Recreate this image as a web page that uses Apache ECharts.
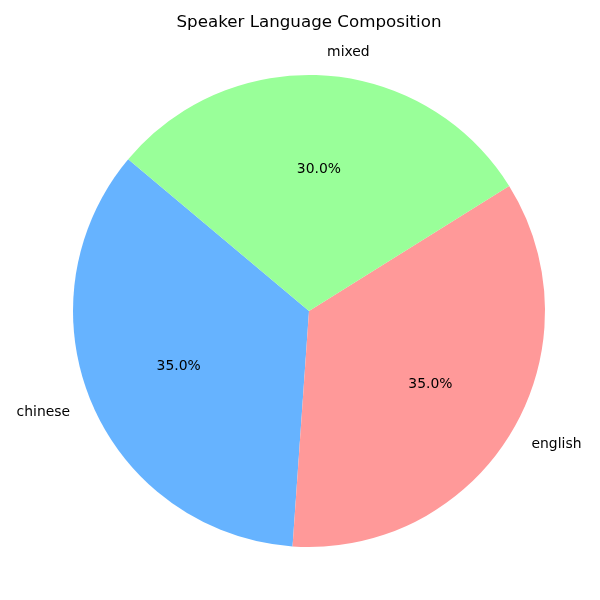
<!DOCTYPE html>
<html>
<head>
<meta charset="utf-8">
<script src="https://cdn.jsdelivr.net/npm/echarts@6/dist/echarts.min.js"></script>
<style>
  html, body { margin: 0; padding: 0; background: #fff; }
  #chart1 { width: 600px; height: 600px; }
</style>
</head>
<body>
<div id="chart1"></div>
<script>
// 数据
const languages = ['chinese', 'english', 'mixed'];
const shares = [35, 35, 30];
const colors = ['#66b3ff', '#ff9999', '#99ff99'];

const R = 236;
const font = 'DejaVu Sans';

const pieData = languages.map((name, i) => {
  return { name: name, value: shares[i], itemStyle: { color: colors[i] } };
});
const total = shares.reduce((a, b) => a + b, 0);

const option = {
  animation: false,
  backgroundColor: '#fff',
  title: {
    text: 'Speaker Language Composition',
    left: 309,
    top: 14,
    padding: 0,
    textAlign: 'center',
    textStyle: { fontFamily: font, fontSize: 16.7, fontWeight: 'normal', color: '#000' }
  },
  series: [
    {
      // 扇区 + 外侧名称
      type: 'pie',
      center: [309, 311],
      radius: [0, R],
      startAngle: 140,
      clockwise: false,
      avoidLabelOverlap: false,
      silent: true,
      data: pieData,
      label: {
        show: true,
        position: 'outside',
        formatter: '{b}',
        fontFamily: font,
        fontSize: 13.9,
        color: '#000',
        distanceToLabelLine: 0
      },
      labelLine: { show: false, length: R * 0.1, length2: 0 }
    },
    {
      // 百分比, 放在 0.6R
      type: 'pie',
      center: [309, 311],
      radius: [R * 0.2 - 6, R],
      startAngle: 140,
      clockwise: false,
      avoidLabelOverlap: false,
      silent: true,
      data: languages.map((name, i) => ({ name: name, value: shares[i] })),
      itemStyle: { color: 'rgba(0,0,0,0)' },
      label: {
        show: true,
        position: 'inside',
        formatter: p => (p.value / total * 100).toFixed(1) + '%',
        fontFamily: font,
        fontSize: 13.9,
        color: '#000'
      },
      labelLine: { show: false }
    }
  ]
};

const mycharts = echarts.init(document.getElementById('chart1'));
mycharts.setOption(option);
</script>
</body>
</html>
